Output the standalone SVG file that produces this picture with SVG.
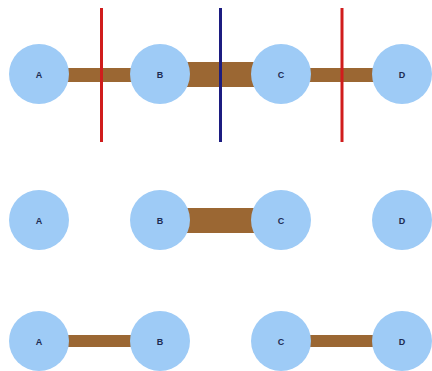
<svg xmlns="http://www.w3.org/2000/svg" width="432" height="371" viewBox="0 0 432 371">
<style>
.n circle{fill:#9ecbf6}
.n text{font-family:"Liberation Sans",Arial,sans-serif;font-size:9px;font-weight:bold;fill:#1d2b52;text-anchor:middle;dominant-baseline:central}
.e{fill:#9b6733}
.cut{stroke-width:3}
</style>
<rect width="432" height="371" fill="#ffffff"/>
<g id="connectors">
<rect class="e" x="60" y="68" width="80" height="14"/>
<rect class="e" x="180" y="62" width="80" height="25"/>
<rect class="e" x="300" y="68" width="80" height="14"/>
<rect class="e" x="180" y="208" width="80" height="25"/>
<rect class="e" x="60" y="335" width="80" height="12"/>
<rect class="e" x="300" y="335" width="80" height="12"/>
</g>
<g id="cuts">
<line class="cut" x1="101.5" y1="8" x2="101.5" y2="142" stroke="#d01c1c"/>
<line class="cut" x1="220.5" y1="8" x2="220.5" y2="142" stroke="#1c1c80"/>
<line class="cut" x1="342" y1="8" x2="342" y2="142" stroke="#d01c1c"/>
</g>
<g id="A1" class="n"><circle cx="39" cy="74" r="30"/><text x="39" y="75">A</text></g>
<g id="B1" class="n"><circle cx="160" cy="74" r="30"/><text x="160" y="75">B</text></g>
<g id="C1" class="n"><circle cx="281" cy="74" r="30"/><text x="281" y="75">C</text></g>
<g id="D1" class="n"><circle cx="402" cy="74" r="30"/><text x="402" y="75">D</text></g>
<g id="A2" class="n"><circle cx="39" cy="220" r="30"/><text x="39" y="221">A</text></g>
<g id="B2" class="n"><circle cx="160" cy="220" r="30"/><text x="160" y="221">B</text></g>
<g id="C2" class="n"><circle cx="281" cy="220" r="30"/><text x="281" y="221">C</text></g>
<g id="D2" class="n"><circle cx="402" cy="220" r="30"/><text x="402" y="221">D</text></g>
<g id="A3" class="n"><circle cx="39" cy="341" r="30"/><text x="39" y="342">A</text></g>
<g id="B3" class="n"><circle cx="160" cy="341" r="30"/><text x="160" y="342">B</text></g>
<g id="C3" class="n"><circle cx="281" cy="341" r="30"/><text x="281" y="342">C</text></g>
<g id="D3" class="n"><circle cx="402" cy="341" r="30"/><text x="402" y="342">D</text></g>
</svg>
